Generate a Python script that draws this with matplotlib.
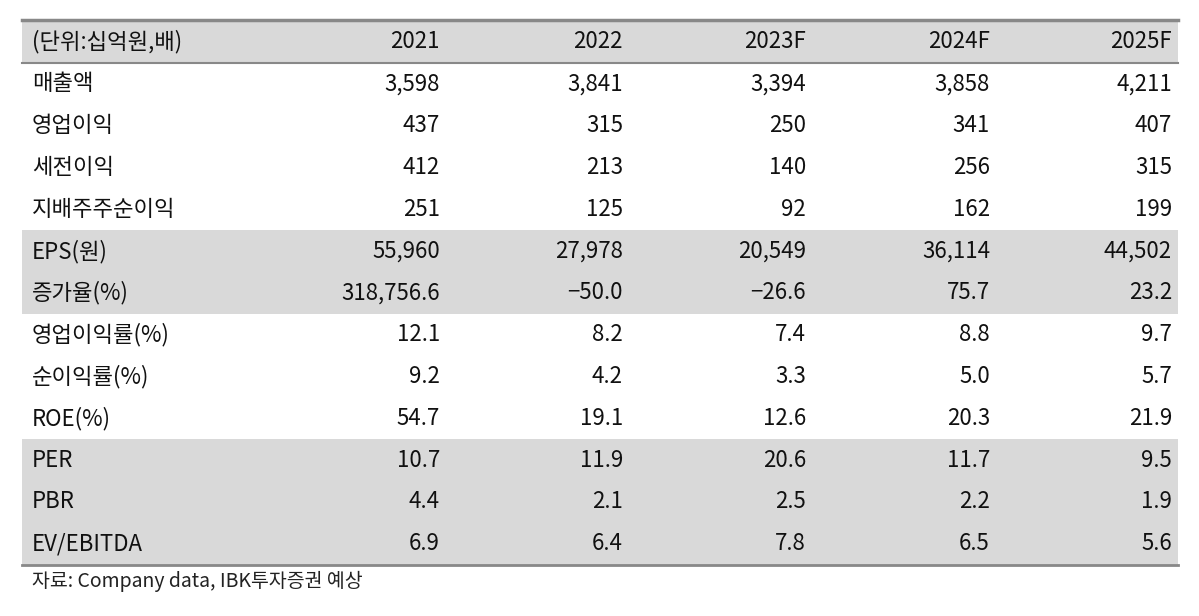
import matplotlib
matplotlib.use("Agg")
import matplotlib.pyplot as plt
from matplotlib.patches import Rectangle

plt.rcParams['font.family'] = ['Noto Sans CJK KR', 'DejaVu Sans']

unit_label = "(단위:십억원,배)"
years = ["2021", "2022", "2023F", "2024F", "2025F"]
row_labels = ["매출액", "영업이익", "세전이익", "지배주주순이익", "EPS(원)", "증가율(%)",
              "영업이익률(%)", "순이익률(%)", "ROE(%)", "PER", "PBR", "EV/EBITDA"]
sales = ["3,598", "3,841", "3,394", "3,858", "4,211"]
op_income = ["437", "315", "250", "341", "407"]
pretax = ["412", "213", "140", "256", "315"]
net_income = ["251", "125", "92", "162", "199"]
eps = ["55,960", "27,978", "20,549", "36,114", "44,502"]
eps_growth = ["318,756.6", "\u221250.0", "\u221226.6", "75.7", "23.2"]
op_margin = ["12.1", "8.2", "7.4", "8.8", "9.7"]
net_margin = ["9.2", "4.2", "3.3", "5.0", "5.7"]
roe = ["54.7", "19.1", "12.6", "20.3", "21.9"]
per = ["10.7", "11.9", "20.6", "11.7", "9.5"]
pbr = ["4.4", "2.1", "2.5", "2.2", "1.9"]
ev_ebitda = ["6.9", "6.4", "7.8", "6.5", "5.6"]
rows = [sales, op_income, pretax, net_income, eps, eps_growth,
        op_margin, net_margin, roe, per, pbr, ev_ebitda]
source = "자료: Company data, IBK투자증권 예상"

W, H = 1199, 616
fig = plt.figure(figsize=(W / 100, H / 100), dpi=100)
ax = fig.add_axes([0, 0, 1, 1])
ax.set_xlim(0, W)
ax.set_ylim(H, 0)
ax.axis("off")

left, right = 22, 1178
header_top, header_bot = 20, 63
row_h = 41.8
col_right = [440, 623, 806, 990, 1172]
shade = "#d9d9d9"
fs = 16

# header band
ax.add_patch(Rectangle((left, header_top), right - left, header_bot - header_top, color=shade, lw=0))
ax.plot([left, right], [header_top, header_top], color="#888888", lw=2.5)
ax.plot([left, right], [header_bot, header_bot], color="#888888", lw=1.5)
ax.text(32, (header_top + header_bot) / 2, unit_label, fontsize=fs, va="center", ha="left", color="#111111")
for x, y in zip(col_right, years):
    ax.text(x, (header_top + header_bot) / 2, y, fontsize=fs, va="center", ha="right", color="#111111")

# shaded row groups
shaded_groups = [(4, 6), (9, 12)]
for a, b in shaded_groups:
    y0 = header_bot + a * row_h
    ax.add_patch(Rectangle((left, y0), right - left, (b - a) * row_h, color=shade, lw=0))

for i, (label, vals) in enumerate(zip(row_labels, rows)):
    yc = header_bot + (i + 0.5) * row_h
    ax.text(32, yc, label, fontsize=fs, va="center", ha="left", color="#111111")
    for x, v in zip(col_right, vals):
        ax.text(x, yc, v, fontsize=fs, va="center", ha="right", color="#111111")

bottom = header_bot + len(rows) * row_h
ax.plot([left, right], [bottom, bottom], color="#888888", lw=2)
ax.text(32, bottom + 17, source, fontsize=14, va="center", ha="left", color="#222222")

fig.savefig("out.png", dpi=100)
